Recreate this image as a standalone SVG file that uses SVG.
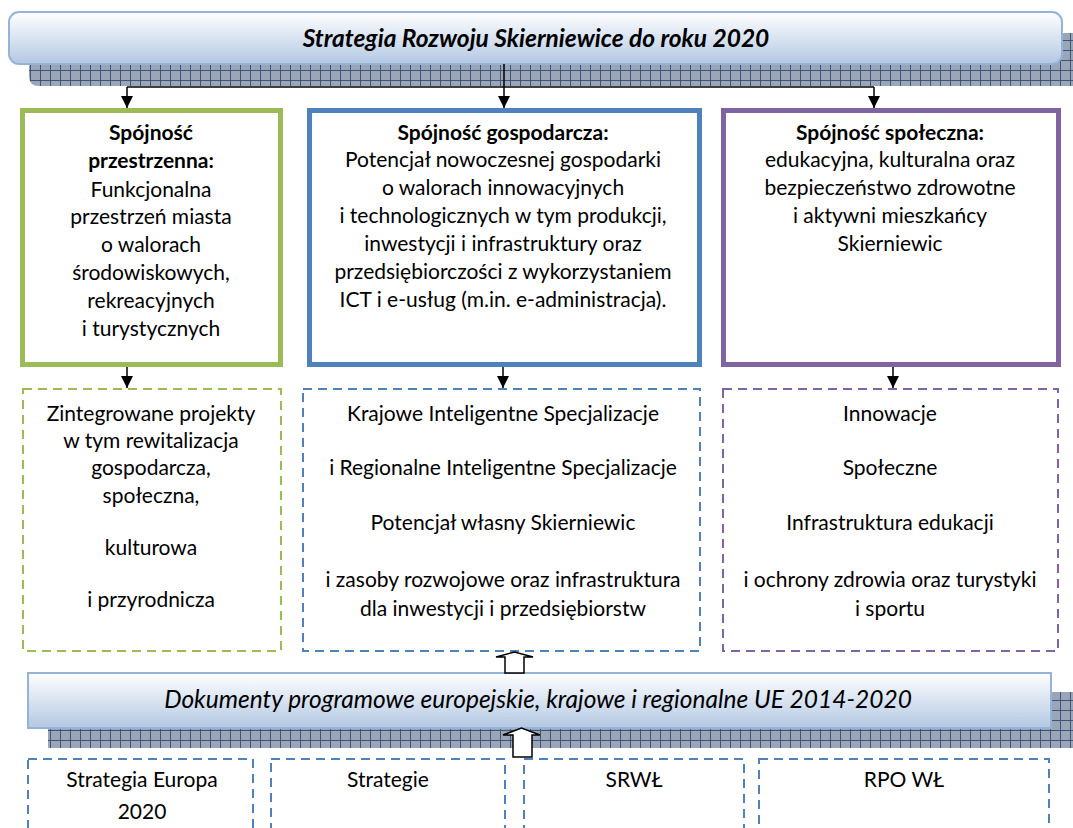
<svg xmlns="http://www.w3.org/2000/svg" width="1073" height="828" viewBox="0 0 1073 828">
<defs>
<linearGradient id="bannerGrad" x1="0" y1="0" x2="0" y2="1">
<stop offset="0" stop-color="#ffffff"/>
<stop offset="1" stop-color="#b3c8e3"/>
</linearGradient>
<pattern id="hatch" width="10" height="10" patternUnits="userSpaceOnUse">
<rect width="10" height="10" fill="#9aa5b8"/>
<path d="M0 0.5H10M0.5 0V10" stroke="#3f5576" stroke-width="1"/>
</pattern>
<marker id="arr" markerWidth="12" markerHeight="12" refX="12" refY="6" orient="auto" markerUnits="userSpaceOnUse" viewBox="0 0 12 12">
<path d="M0 0L12 6L0 12Z" fill="#000"/>
</marker>
<style>
.t{font-family:Lato,"Open Sans","Liberation Sans",sans-serif;font-size:21px;fill:#000;text-anchor:middle}
.b{font-weight:bold}
.h{font-family:Lato,"Open Sans","Liberation Sans",sans-serif;font-size:24.5px;font-style:italic;fill:#000;text-anchor:middle}
.banner{fill:url(#bannerGrad);stroke:#95b3d7;stroke-width:2}
.shadow{fill:url(#hatch)}
.solid{fill:#fff;stroke-width:5}
.dash{fill:none;stroke-width:2;stroke-dasharray:9 6}
.g{stroke:#9bbb59}
.bl{stroke:#4f81bd}
.p{stroke:#8064a2}
.conn{stroke:#000;stroke-width:1.5;fill:none}
.blk{fill:#fff;stroke:#000;stroke-width:1.5}
</style>
</defs>

<g id="top-banner">
<path class="shadow" d="M29 33H1073V86H39Q29 86 29 76Z"/>
<rect class="banner" x="9" y="12" width="1053" height="52" rx="10"/>
<text class="h b" x="536" y="47">Strategia Rozwoju Skierniewice do roku 2020</text>
</g>

<g id="box-przestrzenna">
<rect class="solid g" x="22.5" y="110.5" width="258" height="254"/>
<text class="t b" x="151" y="140">Spójność</text>
<text class="t b" x="151" y="168">przestrzenna:</text>
<text class="t" x="151" y="197">Funkcjonalna</text>
<text class="t" x="151" y="224">przestrzeń miasta</text>
<text class="t" x="151" y="252">o walorach</text>
<text class="t" x="151" y="280">środowiskowych,</text>
<text class="t" x="151" y="308">rekreacyjnych</text>
<text class="t" x="151" y="336">i turystycznych</text>
</g>

<g id="box-gospodarcza">
<rect class="solid bl" x="309.5" y="110.5" width="390" height="254"/>
<text class="t b" x="503" y="140">Spójność gospodarcza:</text>
<text class="t" x="503" y="167">Potencjał nowoczesnej gospodarki</text>
<text class="t" x="503" y="195">o walorach innowacyjnych</text>
<text class="t" x="503" y="223">i technologicznych w tym produkcji,</text>
<text class="t" x="503" y="251">inwestycji i infrastruktury oraz</text>
<text class="t" x="503" y="279">przedsiębiorczości z wykorzystaniem</text>
<text class="t" x="503" y="307">ICT i e-usług (m.in. e-administracja).</text>
</g>

<g id="box-spoleczna">
<rect class="solid p" x="723.5" y="110.5" width="335" height="254"/>
<text class="t b" x="890" y="140">Spójność społeczna:</text>
<text class="t" x="890" y="167">edukacyjna, kulturalna oraz</text>
<text class="t" x="890" y="195">bezpieczeństwo zdrowotne</text>
<text class="t" x="890" y="223">i aktywni mieszkańcy</text>
<text class="t" x="890" y="251">Skierniewic</text>
</g>

<g id="box-projekty">
<rect class="dash g" x="23" y="389" width="258" height="262"/>
<text class="t" x="151" y="421">Zintegrowane projekty</text>
<text class="t" x="151" y="448">w tym rewitalizacja</text>
<text class="t" x="151" y="475">gospodarcza,</text>
<text class="t" x="151" y="503">społeczna,</text>
<text class="t" x="151" y="555">kulturowa</text>
<text class="t" x="151" y="607">i przyrodnicza</text>
</g>

<g id="box-specjalizacje">
<rect class="dash bl" x="303" y="389" width="397" height="262"/>
<text class="t" x="503" y="421">Krajowe Inteligentne Specjalizacje</text>
<text class="t" x="503" y="475">i Regionalne Inteligentne Specjalizacje</text>
<text class="t" x="503" y="530">Potencjał własny Skierniewic</text>
<text class="t" x="503" y="587">i zasoby rozwojowe oraz infrastruktura</text>
<text class="t" x="503" y="616">dla inwestycji i przedsiębiorstw</text>
</g>

<g id="box-innowacje">
<rect class="dash p" x="723" y="389" width="335" height="262"/>
<text class="t" x="890" y="421">Innowacje</text>
<text class="t" x="890" y="475">Społeczne</text>
<text class="t" x="890" y="530">Infrastruktura edukacji</text>
<text class="t" x="890" y="587">i ochrony zdrowia oraz turystyki</text>
<text class="t" x="890" y="616">i sportu</text>
</g>

<g id="bottom-banner">
<rect class="shadow" x="48" y="692" width="1025" height="56"/>
<rect class="banner" x="28" y="673" width="1023" height="55"/>
<text class="h" x="538" y="708">Dokumenty programowe europejskie, krajowe i regionalne UE 2014-2020</text>
</g>

<g id="box-europa">
<rect class="dash bl" x="28" y="759" width="225" height="80"/>
<text class="t" x="142" y="787">Strategia Europa</text>
<text class="t" x="142" y="819">2020</text>
</g>
<g id="box-strategie">
<rect class="dash bl" x="271" y="759" width="234" height="80"/>
<text class="t" x="388" y="787">Strategie</text>
</g>
<g id="box-srwl">
<rect class="dash bl" x="524" y="759" width="220" height="80"/>
<text class="t" x="634" y="787">SRWŁ</text>
</g>
<g id="box-rpo">
<rect class="dash bl" x="759" y="759" width="290" height="80"/>
<text class="t" x="904" y="787">RPO WŁ</text>
</g>

<g id="connectors">
<path class="conn" d="M504 64V108" marker-end="url(#arr)"/>
<path class="conn" d="M127 87H874"/>
<path class="conn" d="M127 87V108" marker-end="url(#arr)"/>
<path class="conn" d="M874 87V108" marker-end="url(#arr)"/>
<path class="conn" d="M127 367V388" marker-end="url(#arr)"/>
<path class="conn" d="M503 367V388" marker-end="url(#arr)"/>
<path class="conn" d="M893 367V388" marker-end="url(#arr)"/>
<path class="blk" d="M505 673V657H496L514.5 652L533 657H524V673Z"/>
<path class="blk" d="M513 757V735H503L521.5 728L540 735H532V757Z"/>
</g>
</svg>
